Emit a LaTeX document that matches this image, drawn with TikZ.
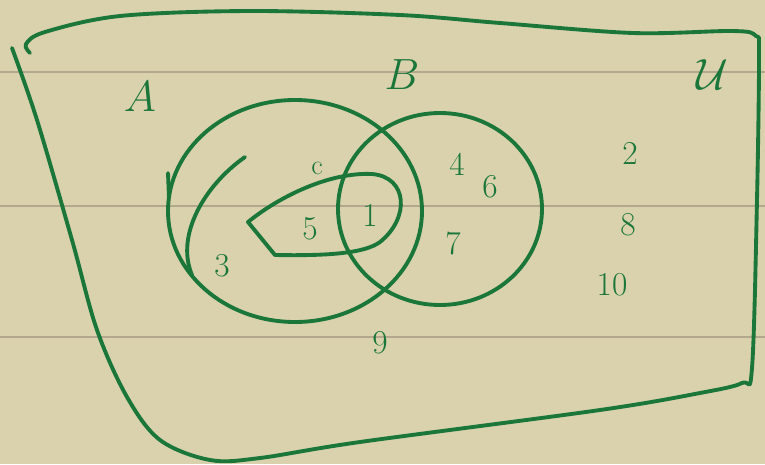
\documentclass[tikz,border=0pt]{standalone}
\usepackage{amsmath,amssymb}
\usetikzlibrary{positioning,backgrounds}
\definecolor{paper}{HTML}{D9D2AC}
\definecolor{ruling}{HTML}{B3A78E}
\definecolor{ink}{HTML}{1B763A}
\tikzset{
  % mengder
  pen/.style={draw=ink,line width=2.2pt,line cap=round,line join=round},
  rule/.style={draw=ruling,line width=0.9pt},
  setname/.style={text=ink,inner sep=0pt,font=\fontsize{24}{28}\selectfont},
  elem/.style={text=ink,inner sep=0pt,font=\fontsize{19}{22}\selectfont},
  small/.style={text=ink,inner sep=0pt,font=\fontsize{16}{18}\selectfont},
}
\begin{document}
\begin{tikzpicture}[x=0.02cm,y=-0.02cm]
  \fill[paper] (0,0) rectangle (765,464);
  \useasboundingbox (0,0) rectangle (765,464);
  \draw[rule] (0,72) -- (765,72);
  \draw[rule] (0,206) -- (765,206);
  \draw[rule] (0,337) -- (765,337);
  % universet
  \draw[pen] plot[smooth,tension=0.55] coordinates {(30,53) (26,44) (45,32)
    (120,16) (250,11) (400,15) (500,23) (633,33) (733,31) (756,36) (759,55)
    (757,200) (752,368) (742,383) (700,393) (600,410) (360,442) (260,458)
    (210,460) (160,440) (127,397) (97,330) (72,240) (37,120) (12,48)};
  % A og B
  \draw[pen] (295,211) ellipse[x radius=127,y radius=111];
  \draw[pen] (440,209) ellipse[x radius=102,y radius=96];
  \draw[pen] (245,157) .. controls (205,185) and (175,235) .. (192,275);
  \draw[pen] (168,173) -- (169,198);
  % C
  \draw[pen] (248,222) .. controls (280,196) and (330,172) .. (372,174)
    .. controls (408,177) and (410,218) .. (380,242)
    .. controls (365,253) and (330,256) .. (275,255) -- cycle;
  \node[setname] (lA) at (140,97) {$A$};
  \node[setname] (lB) at (402,75) {$B$};
  \node[setname] (lU) at (712,75) {$\mathcal{U}$};
  \node[small] (lC) at (317,168) {c};
  \node[elem] (n1) at (370,215) {1};
  \node[elem] (n2) at (630,153) {2};
  \node[elem] (n3) at (222,266) {3};
  \node[elem] (n4) at (457,164) {4};
  \node[elem] (n5) at (310,229) {5};
  \node[elem] (n6) at (490,187) {6};
  \node[elem] (n7) at (453,243) {7};
  \node[elem] (n8) at (628,225) {8};
  \node[elem] (n9) at (380,343) {9};
  \node[elem] (n10) at (612,285) {10};
\end{tikzpicture}
\end{document}
